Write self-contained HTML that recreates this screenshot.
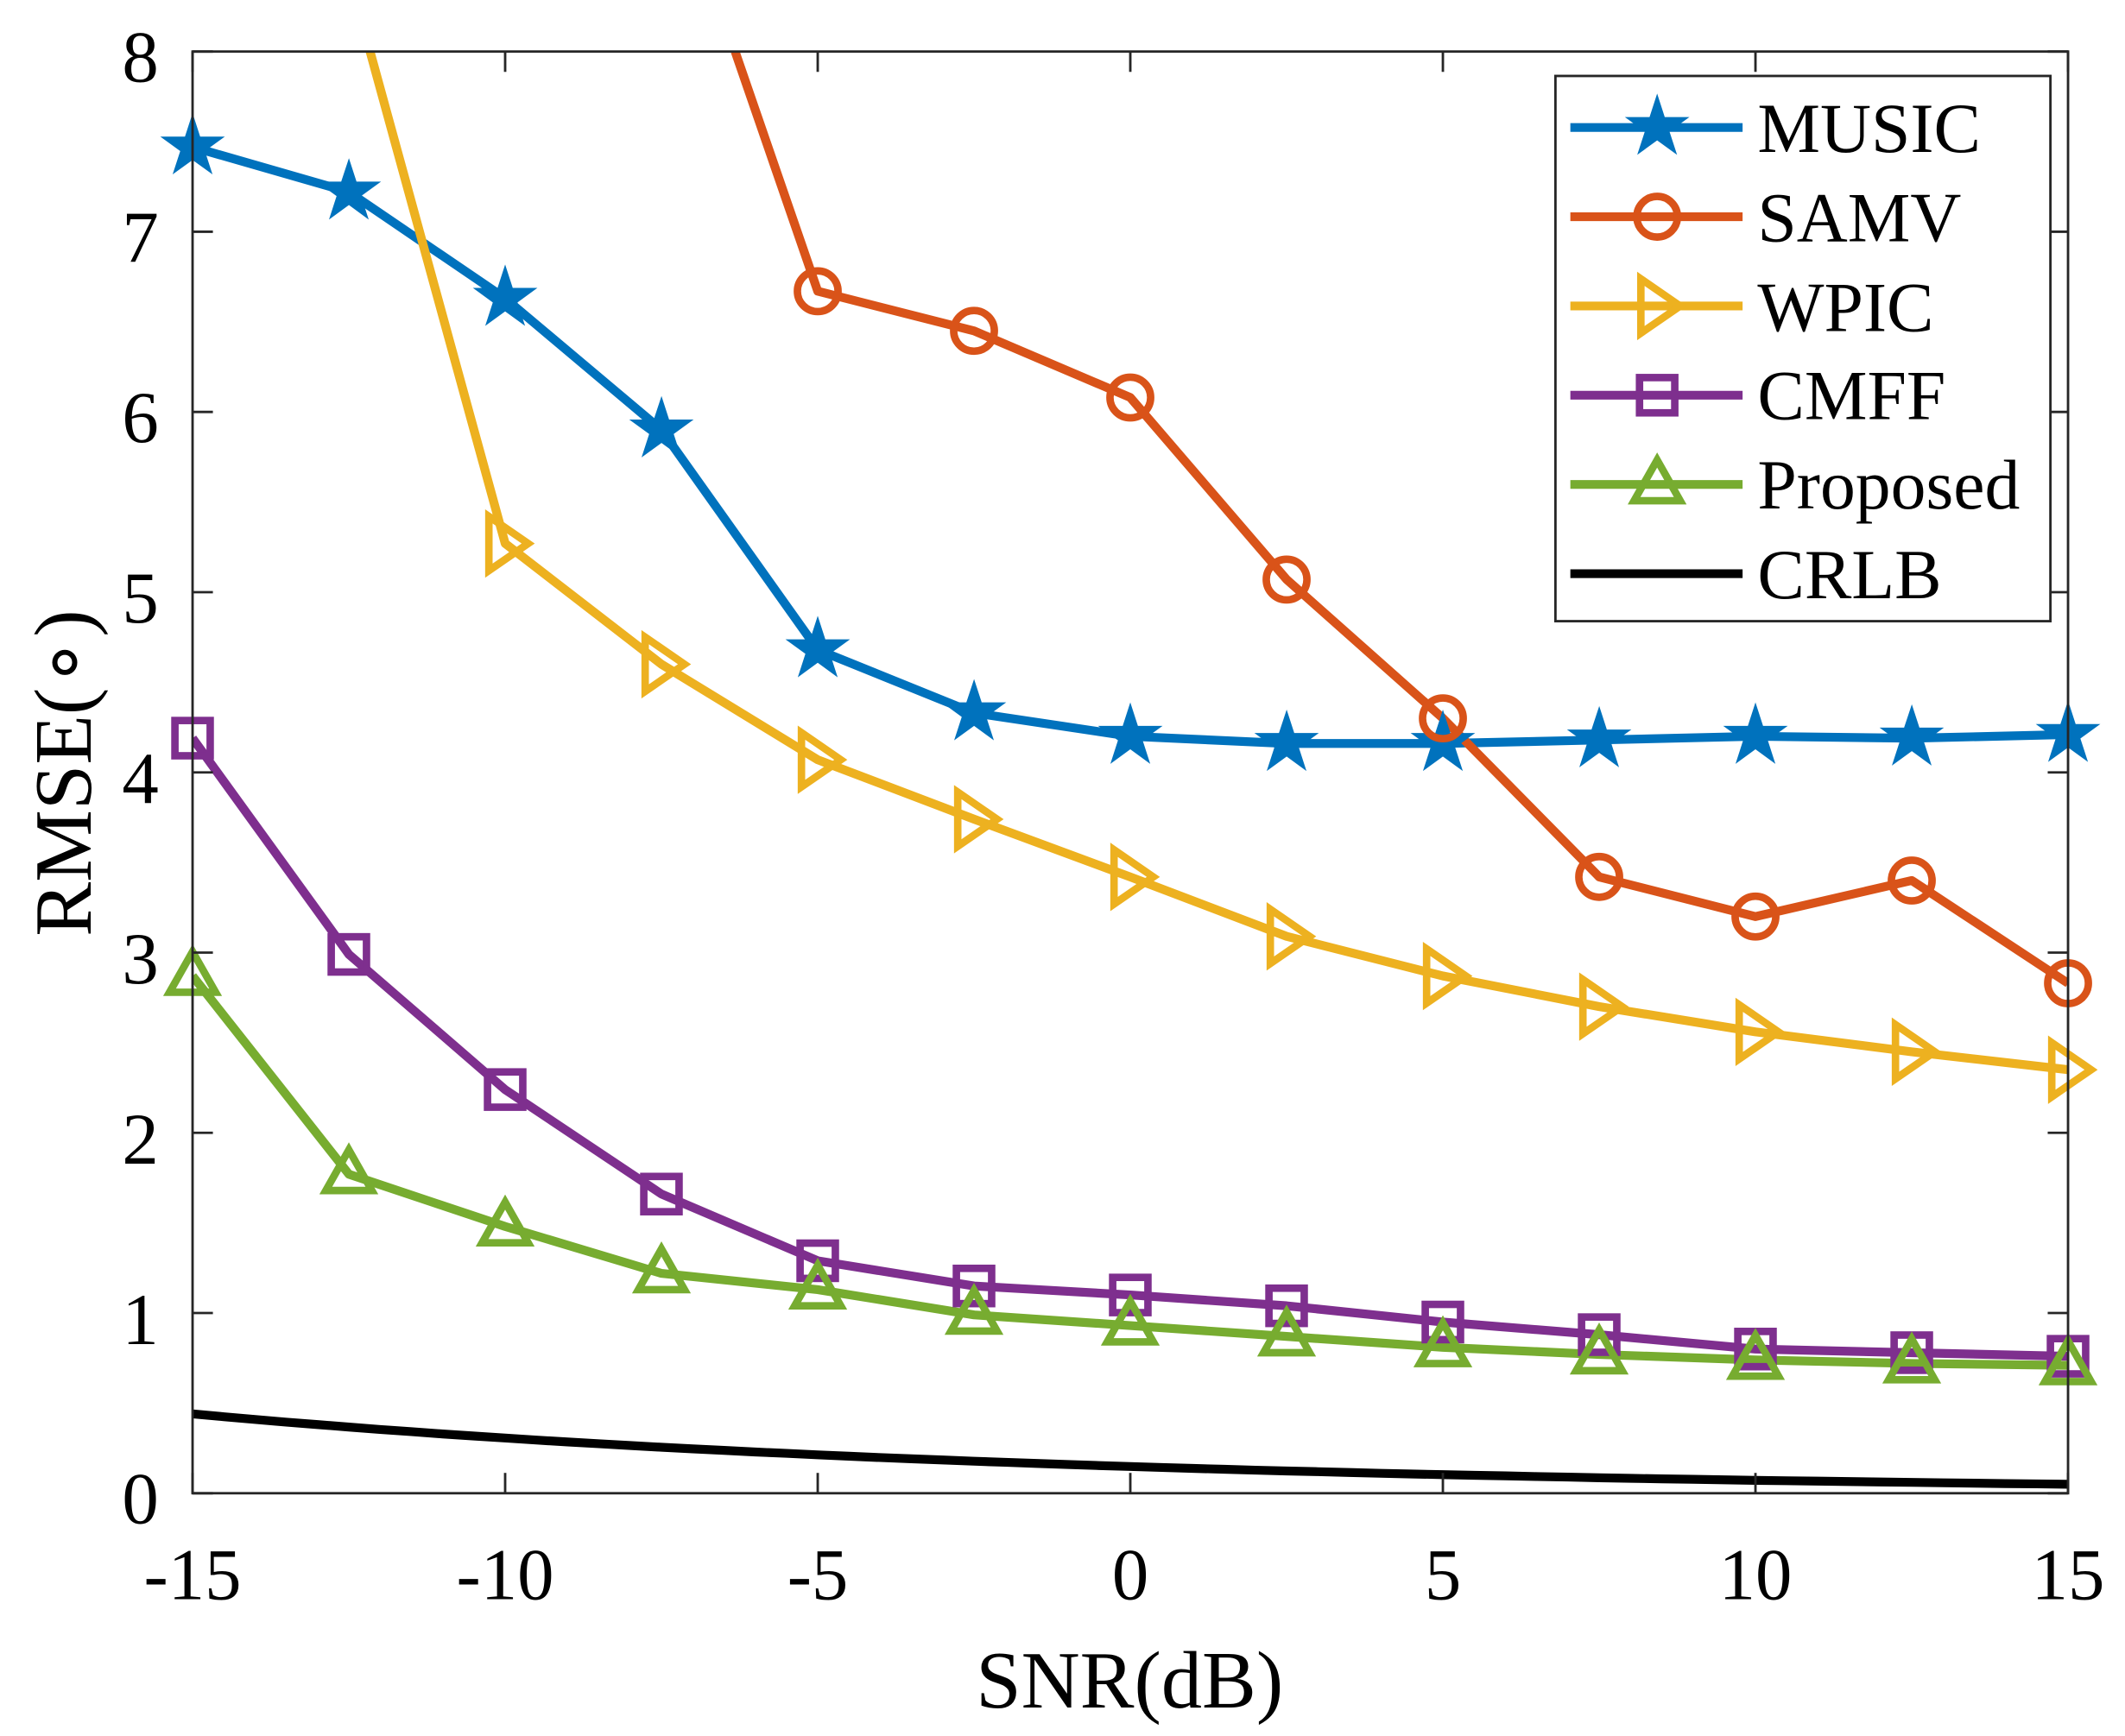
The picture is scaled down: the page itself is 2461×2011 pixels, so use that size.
<!DOCTYPE html>
<html><head><meta charset="utf-8"><style>
html,body{margin:0;padding:0;background:#fff;}
svg{display:block;}
text{font-family:"Liberation Serif",serif;fill:#000;}
</style></head><body>
<svg id="s" width="2461" height="2011" viewBox="0 0 1567 1280" preserveAspectRatio="none" xmlns="http://www.w3.org/2000/svg">
<rect x="0" y="0" width="1567" height="1280" fill="#fff"/>
<defs><clipPath id="c"><rect x="142" y="38" width="1383" height="1063"/></clipPath></defs>
<g id="plot" clip-path="url(#c)"></g>
<g id="mk"></g>
<g id="axes" stroke="#262626" stroke-width="1.8" fill="none"></g>
<g font-size="54" fill="#262626">
<text x="117" y="60" text-anchor="end">8</text>
<text x="117" y="193" text-anchor="end">7</text>
<text x="117" y="326" text-anchor="end">6</text>
<text x="117" y="459" text-anchor="end">5</text>
<text x="117" y="592" text-anchor="end">4</text>
<text x="117" y="725" text-anchor="end">3</text>
<text x="117" y="858" text-anchor="end">2</text>
<text x="117" y="991" text-anchor="end">1</text>
<text x="117" y="1123" text-anchor="end">0</text>
<text x="142" y="1179" text-anchor="middle">-15</text>
<text x="372.5" y="1179" text-anchor="middle">-10</text>
<text x="603" y="1179" text-anchor="middle">-5</text>
<text x="833.5" y="1179" text-anchor="middle">0</text>
<text x="1064" y="1179" text-anchor="middle">5</text>
<text x="1294.5" y="1179" text-anchor="middle">10</text>
<text x="1525" y="1179" text-anchor="middle">15</text>
</g>
<text x="833" y="1259" text-anchor="middle" font-size="60">SNR(dB)</text>
<text transform="translate(67,570) rotate(-90)" text-anchor="middle" font-size="60">RMSE(∘)</text>
<rect x="1147" y="56" width="365" height="402" fill="#fff" stroke="#262626" stroke-width="1.8"/>
<g font-size="52">
<text x="1296" y="112">MUSIC</text>
<text x="1296" y="178">SAMV</text>
<text x="1296" y="244">WPIC</text>
<text x="1296" y="309">CMFF</text>
<text x="1296" y="375">Proposed</text>
<text x="1296" y="441">CRLB</text>
</g>
<g id="leg"></g>
</svg>
<script>
var NS="http://www.w3.org/2000/svg";
function X(v){return 142+(v+15)*46.1;}
function Y(v){return 1101-v*132.875;}
function el(p,t,a){var e=document.createElementNS(NS,t);for(var k in a)e.setAttribute(k,a[k]);p.appendChild(e);return e;}
var plot=document.getElementById('plot'),mk=document.getElementById('mk'),leg=document.getElementById('leg'),ax=document.getElementById('axes');
var xs=[];for(var i=0;i<13;i++)xs.push(-15+2.5*i);
var S=[
{c:"#0072BD",m:"star",d:xs.map(function(x,i){return [x,[7.47,7.22,6.63,5.9,4.68,4.33,4.2,4.16,4.16,4.18,4.2,4.19,4.21][i]];})},
{c:"#D95319",m:"circ",d:[[-6.32,8],[-5,6.67],[-2.5,6.45],[0,6.08],[2.5,5.07],[5,4.3],[7.5,3.42],[10,3.2],[12.5,3.4],[15,2.83]],skip:1},
{c:"#EDB120",m:"tri",d:[[-12.16,8],[-10,5.27],[-7.5,4.6],[-5,4.07],[-2.5,3.74],[0,3.42],[2.5,3.09],[5,2.87],[7.5,2.7],[10,2.56],[12.5,2.45],[15,2.35]],skip:1},
{c:"#7E2F8E",m:"sq",d:xs.map(function(x,i){return [x,[4.19,2.99,2.24,1.66,1.29,1.15,1.1,1.04,0.95,0.88,0.8,0.78,0.76][i]];})},
{c:"#77AC30",m:"up",d:xs.map(function(x,i){return [x,[2.87,1.77,1.48,1.22,1.13,0.99,0.93,0.87,0.81,0.77,0.74,0.72,0.71][i]];})},
{c:"#000",m:null,d:null}
];
// CRLB smooth
var cr=[];for(var x=-15;x<=15.01;x+=0.5){cr.push([x,0.44*Math.pow(0.05/0.44,(x+15)/30)*(1+0.0*x)]);}
S[5].d=cr;
function marker(g,m,cx,cy,c){
 if(m=="star"){var R=25,r=R*0.382,p=[];for(var k=0;k<10;k++){var a=-Math.PI/2+k*Math.PI/5,rr=k%2?r:R;p.push((cx+rr*Math.cos(a)).toFixed(1)+","+(cy+rr*Math.sin(a)).toFixed(1));}
  el(g,"polygon",{points:p.join(" "),fill:c});}
 else if(m=="circ")el(g,"circle",{cx:cx,cy:cy,r:15,fill:"none",stroke:c,"stroke-width":5.5});
 else if(m=="tri")el(g,"polygon",{points:(cx-12)+","+(cy-20)+" "+(cx+17)+","+cy+" "+(cx-12)+","+(cy+20),fill:"none",stroke:c,"stroke-width":5.5});
 else if(m=="sq")el(g,"rect",{x:cx-13,y:cy-13,width:26,height:26,fill:"none",stroke:c,"stroke-width":5.5});
 else if(m=="up")el(g,"polygon",{points:(cx-17)+","+(cy+12)+" "+(cx+17)+","+(cy+12)+" "+cx+","+(cy-18),fill:"none",stroke:c,"stroke-width":5.5});
}
S.forEach(function(s,j){
 var pts=s.d.map(function(p){return X(p[0]).toFixed(1)+","+Y(p[1]).toFixed(1);}).join(" ");
 el(plot,"polyline",{points:pts,fill:"none",stroke:s.c,"stroke-width":6.5,"stroke-linejoin":"round"});
 if(s.m)s.d.forEach(function(p,i){if(s.skip&&i==0)return;marker(mk,s.m,X(p[0]),Y(p[1]),s.c);});
 var ly=94+j*65.8;
 el(leg,"line",{x1:1158,y1:ly,x2:1285,y2:ly,stroke:s.c,"stroke-width":6.5});
 if(s.m)marker(leg,s.m,1222,ly,s.c);
});
el(ax,"rect",{x:142,y:38,width:1383,height:1063});
for(var v=-15;v<=15;v+=5){el(ax,"line",{x1:X(v),y1:1101,x2:X(v),y2:1086});el(ax,"line",{x1:X(v),y1:38,x2:X(v),y2:53});}
for(var v=0;v<=8;v++){el(ax,"line",{x1:142,y1:Y(v),x2:157,y2:Y(v)});el(ax,"line",{x1:1525,y1:Y(v),x2:1510,y2:Y(v)});}
</script>
</body></html>
